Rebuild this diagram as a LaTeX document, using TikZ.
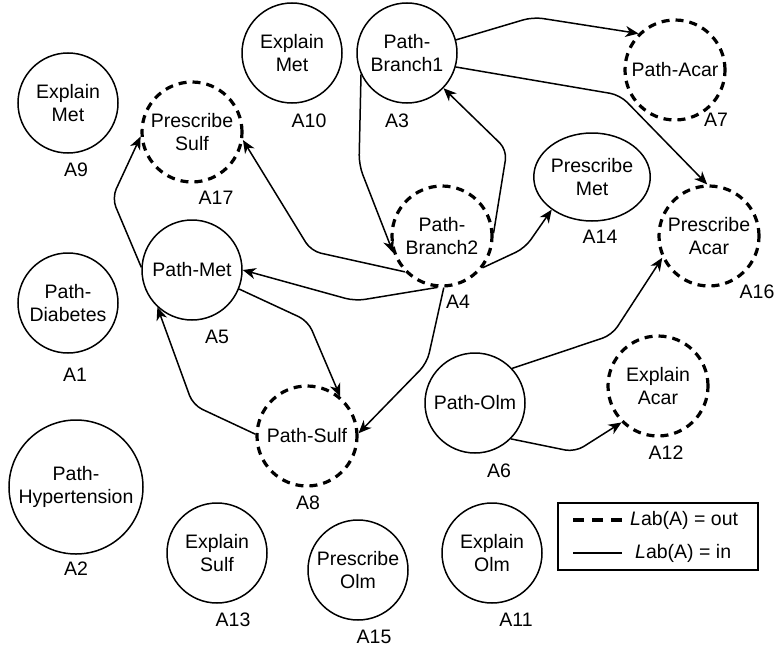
\documentclass[tikz,border=0pt]{standalone}
\usepackage{fontspec}
\setmainfont{Liberation Sans}
\usetikzlibrary{arrows.meta,shapes.geometric}
\begin{document}
\begin{tikzpicture}[x=1pt,y=-1pt,
  every node/.style={font=\fontsize{19.5}{23}\selectfont},
  st/.style={circle, draw, line width=1.5pt, minimum size=100pt, inner sep=0pt, align=center},
  dsh/.style={st, line width=3.2pt, dash pattern=on 8pt off 6pt},
  lbl/.style={inner sep=0pt},
  edge/.style={line width=1.5pt, rounded corners=10pt, -{Stealth[length=13pt,width=11pt,inset=4pt]}}
]
\useasboundingbox (0,0) rectangle (775,650);

% nodes
\node[st]  (A9)  at (68,103)  {Explain\\Met};
\node[dsh] (A17) at (192,132) {Prescribe\\Sulf};
\node[st]  (A10) at (292,53)  {Explain\\Met};
\node[st]  (A3)  at (407,53)  {Path-\\Branch1};
\node[dsh] (A7)  at (675,70)  {Path-Acar};
\node[st, ellipse, minimum size=0pt, minimum width=100pt, minimum height=88pt] (A14) at (592,177) {Prescribe\\Met};
\node[dsh] (A16) at (709,236) {Prescribe\\Acar};
\node[dsh] (A4)  at (442,236) {Path-\\Branch2};
\node[st]  (A5)  at (192,270) {Path-Met};
\node[st]  (A1)  at (68,303)  {Path-\\Diabetes};
\node[dsh] (A8)  at (307,436) {Path-Sulf};
\node[st, minimum size=134pt] (A2) at (76,487) {Path-\\Hypertension};
\node[st]  (A13) at (217,553) {Explain\\Sulf};
\node[st]  (A15) at (358,570) {Prescribe\\Olm};
\node[st]  (A11) at (492,553) {Explain\\Olm};
\node[st]  (A6)  at (475,403) {Path-Olm};
\node[dsh] (A12) at (658,386) {Explain\\Acar};

% labels
\node[lbl] (L9)  at (76,170)  {A9};
\node[lbl] (L17) at (216,198) {A17};
\node[lbl] (L10) at (309,121) {A10};
\node[lbl] (L3)  at (397,121) {A3};
\node[lbl] (L7)  at (716,120) {A7};
\node[lbl] (L14) at (600,237) {A14};
\node[lbl] (L16) at (757,292) {A16};
\node[lbl] (L4)  at (458,302) {A4};
\node[lbl] (L5)  at (217,337) {A5};
\node[lbl] (L1)  at (75,375)  {A1};
\node[lbl] (L8)  at (308,503) {A8};
\node[lbl] (L2)  at (76,569)  {A2};
\node[lbl] (L13) at (233,620) {A13};
\node[lbl] (L15) at (374,637) {A15};
\node[lbl] (L11) at (516,620) {A11};
\node[lbl] (L6)  at (499,471) {A6};
\node[lbl] (L12) at (666,453) {A12};

% edges
\draw[edge] (A3.15) -- (533,17) -- (A7.135);
\draw[edge] (A3.-16) -- (620,95) -- (A16.92);
\draw[edge] (A3.205) -- (359,165) -- (A4.199);
\draw[edge] (A4.3) -- (507,150) -- (A3.-44);
\draw[edge] (A4.-38) -- (525,248) -- (A14.219);
\draw[edge] (A4.224) -- (311,251) -- (A17.-9);
\draw[edge] (A4.265) -- (355,301) -- (A5.0);
\draw[edge] (A4.272) -- (427,363) -- (A8.3);
\draw[edge] (A5.-22) -- (308,321) -- (A8.50);
\draw[edge] (A8.178) -- (193,405) -- (A5.227);
\draw[edge] (A5.177) -- (112,198) -- (A17.185);
\draw[edge] (A6.43) -- (612,335) -- (A16.205);
\draw[edge] (A6.-45) -- (575,452) -- (A12.225);

% legend
\node[draw, line width=1.5pt, minimum width=200pt, minimum height=67pt, inner sep=0pt] (leg) at (658,536.5) {};
\coordinate (d1) at (573,520);
\coordinate (d2) at (622,520);
\coordinate (s1) at (573,553);
\coordinate (s2) at (622,553);
\draw[line width=3.2pt, dash pattern=on 11pt off 8pt] (d1) -- (d2);
\draw[line width=1.5pt] (s1) -- (s2);
\node[lbl, anchor=west] (lo) at (630,520) {\textit{L}ab(A) = out};
\node[lbl, anchor=west] (li) at (635,553) {\textit{L}ab(A) = in};
\end{tikzpicture}
\end{document}
